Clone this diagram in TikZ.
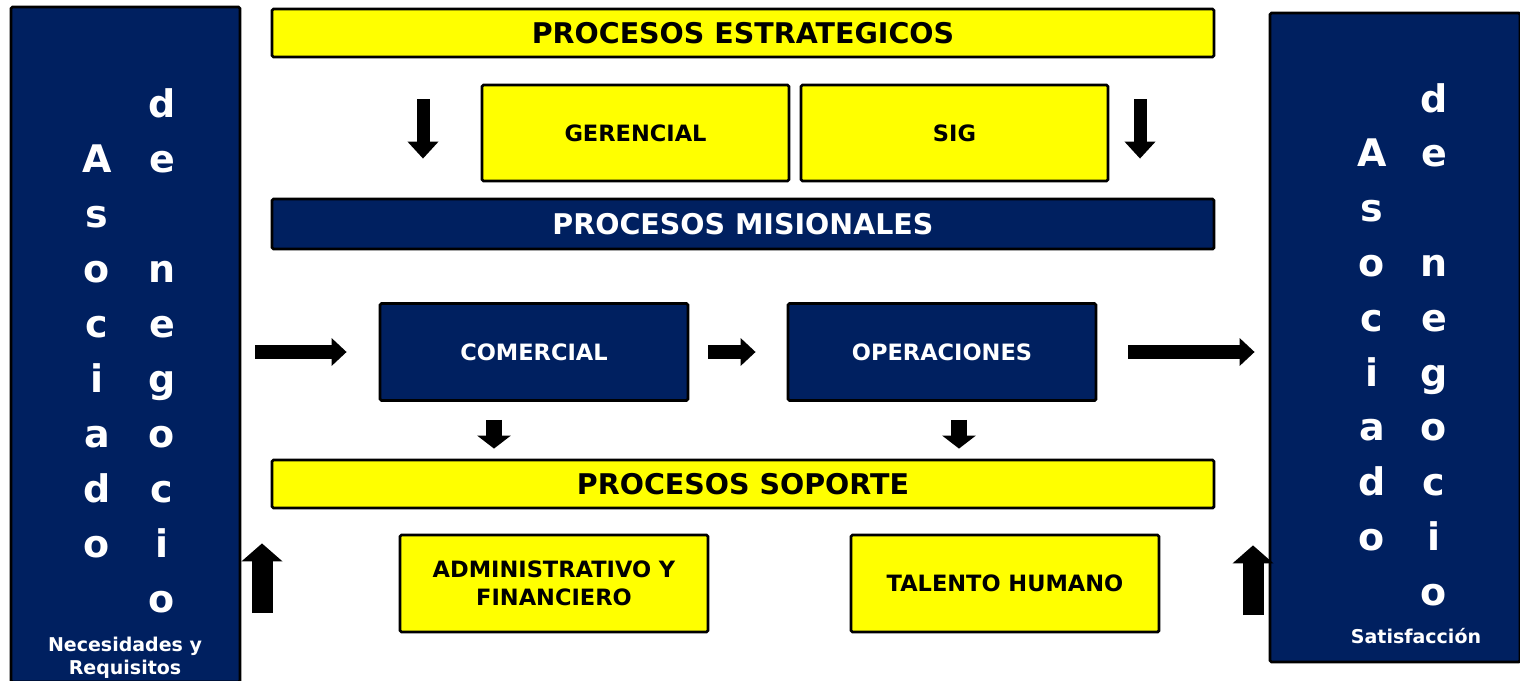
\documentclass[tikz,border=0pt]{standalone}
\usepackage{fontspec}
\setmainfont{DejaVu Sans}
\usepackage{tikz}
\usetikzlibrary{calc}
\usetikzlibrary{positioning}
\usetikzlibrary{arrows.meta}
\definecolor{navyColor}{HTML}{002060}
\definecolor{procYellow}{HTML}{FFFF00}

\begin{document}
\begin{tikzpicture}[x=1pt, y=-1pt,
		bar/.style={draw=black, line width=2.8pt, rounded corners=1.5pt, minimum width=942pt, minimum height=48pt, inner sep=0pt, font=\bfseries\fontsize{28.5}{32}\selectfont},
		bary/.style={bar, fill=procYellow, text=black},
		barn/.style={bar, fill=navyColor, text=white, minimum height=50pt},
		bx/.style={draw=black, line width=2.8pt, rounded corners=1.5pt, minimum width=308pt, minimum height=97pt, inner sep=0pt, align=center, font=\bfseries\fontsize{22.5}{28}\selectfont},
		bxy/.style={bx, fill=procYellow, text=black},
		bxn/.style={bx, fill=navyColor, text=white},
		colm/.style={draw=black, line width=2.8pt, fill=navyColor, rounded corners=1.5pt, inner sep=0pt},
		ltr/.style={text=white, anchor=base, inner sep=0pt, font=\bfseries\fontsize{38}{40}\selectfont},
		sm/.style={text=white, align=center, inner sep=0pt, font=\bfseries\fontsize{19}{23}\selectfont},
		arwA/.style={line width=13pt, -{Triangle[length=17pt, width=30pt]}},
		arwH/.style={line width=14pt, -{Triangle[length=15pt, width=27pt]}},
		arwS/.style={line width=16pt, -{Triangle[length=13pt, width=33pt]}},
		arwU/.style={line width=21pt, -{Triangle[length=18pt, width=40pt]}}
		]
		\useasboundingbox (0,0) rectangle (1520,680);

		% side columns
		\node[colm, minimum width=229pt, minimum height=675pt] (asocL) at (125.5,344.5) {};
		\node[colm, minimum width=250pt, minimum height=649pt] (asocR) at (1395,337.5) {};

		\foreach \l [count=\i] in {A,s,o,c,i,a,d,o}
			\node[ltr] (la\i) at (97,117+55*\i) {\l};
		\foreach \l [count=\i from 0] in {d,e,{},n,e,g,o,c,i,o}
			\node[ltr] (lb\i) at (162,117+55*\i) {\l};
		\foreach \l [count=\i] in {A,s,o,c,i,a,d,o}
			\node[ltr] (ra\i) at (1372,112+54.8*\i) {\l};
		\foreach \l [count=\i from 0] in {d,e,{},n,e,g,o,c,i,o}
			\node[ltr] (rb\i) at (1434,112+54.8*\i) {\l};

		\node[sm] (nec) at (125,658) {Necesidades y\\Requisitos};
		\node[sm] (sat) at (1416,636) {Satisfacción};

		% bars and boxes
		\node[bary] (est) at (743,33) {PROCESOS ESTRATEGICOS};
		\node[bxy, minimum width=307pt, minimum height=96pt] (ger) at (635.5,133) {GERENCIAL};
		\node[bxy, minimum width=307pt, minimum height=96pt] (sig) at (954.5,133) {SIG};
		\node[barn] (mis) at (743,224) {PROCESOS MISIONALES};
		\node[bxn] (com) at (534,352) {COMERCIAL};
		\node[bxn] (ope) at (942,352) {OPERACIONES};
		\node[bary] (sop) at (743,484) {PROCESOS SOPORTE};
		\node[bxy] (adm) at (554,583.5) {ADMINISTRATIVO Y\\FINANCIERO};
		\node[bxy] (tal) at (1005,583.5) {TALENTO HUMANO};

		% arrows
		\coordinate (c1) at (423,0);
		\coordinate (c2) at (1140,0);
		\coordinate (c3) at (494,0);
		\coordinate (c4) at (959,0);
		\coordinate (u1) at (262,613);
		\coordinate (u2) at (1253,615);

		\draw[arwA, shorten <=41pt, shorten >=39pt] (est.south -| c1) -- (mis.north -| c1);
		\draw[arwA, shorten <=41pt, shorten >=39pt] (est.south -| c2) -- (mis.north -| c2);

		\draw[arwH, shorten <=14pt, shorten >=32pt] (asocL.east |- com.west) -- (com.west);
		\draw[arwH, shorten <=19pt, shorten >=31pt] (com.east) -- (ope.west);
		\draw[arwH, shorten <=31pt, shorten >=14pt] (ope.east) -- (asocR.west |- ope.east);

		\draw[arwS, shorten <=18pt, shorten >=10pt] (com.south -| c3) -- (sop.north -| c3);
		\draw[arwS, shorten <=18pt, shorten >=10pt] (ope.south -| c4) -- (sop.north -| c4);

		\draw[arwU, shorten >=34pt] (u1) -- (u1 |- sop.south);
		\draw[arwU, shorten >=36pt] (u2) -- (u2 |- sop.south);
	\end{tikzpicture}
\end{document}
